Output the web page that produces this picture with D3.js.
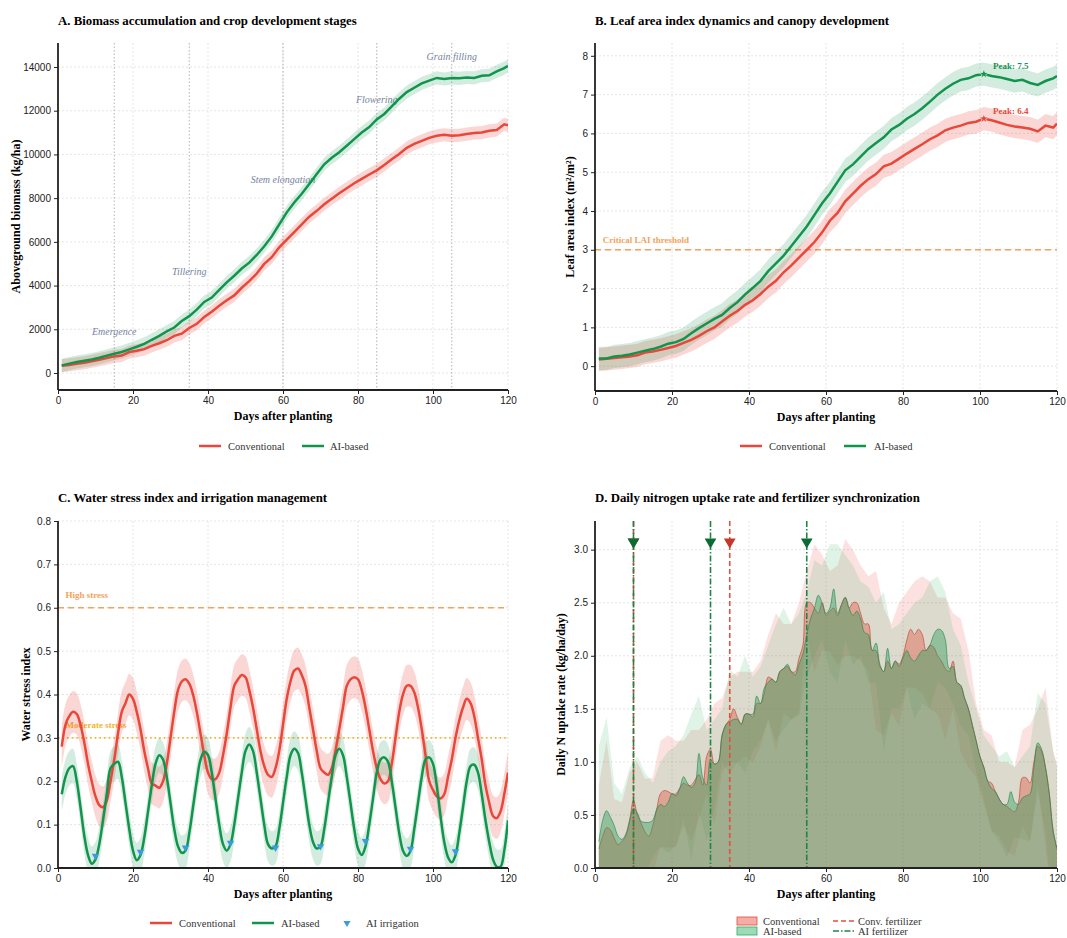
<!DOCTYPE html>
<html lang="en">
<head>
<meta charset="UTF-8"/>
<title>Crop growth: conventional vs AI-based management</title>
<script src="https://d3js.org/d3.v7.min.js"></script>
<style>
	body { margin: 0; background: white; }
	svg { font-family: "Liberation Serif", "DejaVu Serif", serif; }
	.axis text { font-size: 10px; fill: #222; }
	.axis path, .axis line { stroke: #222; }
	.grid { stroke: #dedede; stroke-width: 0.8; stroke-dasharray: 2,2; }
	.title { font-size: 12.8px; font-weight: bold; }
	.label { font-size: 12px; font-weight: bold; }
	.legend { font-size: 10.5px; fill: #333; }
</style>
</head>
<body>
<script>
// ---- data ----
var days2 = d3.range(1, 120, 2).concat([120]);   // every second day for A, B and D bands
var days1 = d3.range(1, 121);                     // daily for C and D

// A. aboveground biomass (kg/ha)
var bioConv = [330,370,420,470,540,610,680,760,800,960,1020,1090,1240,1360,1500,1700,1800,2060,2250,2560,
	2800,3080,3330,3550,3900,4200,4550,4990,5300,5750,6100,6450,6800,7150,7420,7720,7970,8220,8450,8680,
	8880,9080,9270,9520,9780,10020,10300,10480,10620,10760,10850,10900,10860,10880,10930,10980,11000,11080,11120,11380,11330];
var bioAI = [350,430,500,560,620,700,790,880,960,1080,1200,1330,1520,1700,1900,2080,2380,2600,2900,3250,
	3450,3800,4150,4450,4780,5050,5400,5800,6250,6800,7350,7800,8200,8650,9100,9550,9850,10100,10400,10700,
	11000,11250,11600,11850,12200,12550,12850,13050,13250,13380,13500,13450,13500,13480,13520,13500,13600,13620,13800,13950,14050];
var bioBand = 300;
var stageNames = ["Emergence", "Tillering", "Stem elongation", "Flowering", "Grain filling"];
var stageDays = [15, 35, 60, 85, 105];
var stageLabelY = [1920, 4660, 8870, 12530, 14500];

// B. leaf area index
var laiConv = [0.17,0.19,0.21,0.23,0.25,0.28,0.35,0.38,0.42,0.47,0.52,0.6,0.68,0.78,0.9,1.0,1.15,1.3,1.42,1.58,
	1.7,1.86,2.05,2.2,2.42,2.6,2.8,3.0,3.2,3.45,3.75,3.95,4.25,4.45,4.65,4.82,4.95,5.15,5.22,5.35,
	5.48,5.6,5.72,5.85,5.95,6.08,6.15,6.2,6.27,6.3,6.38,6.34,6.28,6.22,6.18,6.15,6.12,6.05,6.2,6.15,6.25];
var laiAI = [0.2,0.2,0.25,0.27,0.3,0.35,0.4,0.44,0.5,0.58,0.62,0.7,0.85,0.98,1.1,1.22,1.32,1.5,1.65,1.85,
	2.02,2.2,2.45,2.65,2.85,3.1,3.35,3.6,3.9,4.2,4.45,4.75,5.05,5.2,5.4,5.6,5.75,5.9,6.1,6.22,
	6.38,6.5,6.65,6.82,7.0,7.15,7.28,7.38,7.42,7.5,7.53,7.48,7.45,7.4,7.35,7.38,7.3,7.25,7.35,7.42,7.48];
var laiBand = 0.3;
var laiThreshold = 3;

// C. water stress index
var stressConv = [0.28,0.33,0.35,0.36,0.355,0.33,0.29,0.24,0.2,0.165,
	0.145,0.14,0.155,0.2,0.25,0.31,0.36,0.38,0.40,0.39,
	0.36,0.32,0.27,0.23,0.195,0.19,0.185,0.2,0.24,0.3,
	0.36,0.41,0.43,0.435,0.425,0.4,0.36,0.31,0.26,0.22,
	0.205,0.205,0.22,0.26,0.31,0.37,0.42,0.435,0.445,0.44,
	0.41,0.37,0.32,0.27,0.235,0.215,0.21,0.23,0.27,0.33,
	0.39,0.43,0.455,0.46,0.445,0.42,0.37,0.32,0.27,0.23,
	0.22,0.215,0.23,0.27,0.32,0.37,0.42,0.435,0.44,0.435,
	0.41,0.37,0.32,0.27,0.23,0.205,0.195,0.2,0.24,0.3,
	0.36,0.4,0.42,0.42,0.405,0.37,0.32,0.26,0.2,0.18,
	0.165,0.16,0.17,0.21,0.25,0.3,0.34,0.37,0.39,0.38,
	0.35,0.3,0.25,0.19,0.15,0.12,0.115,0.13,0.17,0.22];
var stressAI = [0.17,0.21,0.23,0.235,0.2,0.14,0.075,0.03,0.01,0.02,
	0.055,0.11,0.17,0.23,0.24,0.245,0.21,0.15,0.09,0.04,
	0.018,0.03,0.07,0.13,0.19,0.24,0.26,0.25,0.21,0.15,
	0.09,0.05,0.035,0.04,0.08,0.14,0.2,0.25,0.268,0.26,
	0.22,0.16,0.1,0.055,0.04,0.055,0.1,0.16,0.22,0.27,
	0.285,0.27,0.22,0.16,0.1,0.055,0.045,0.05,0.09,0.15,
	0.21,0.26,0.275,0.265,0.22,0.16,0.1,0.06,0.045,0.05,
	0.09,0.15,0.21,0.26,0.275,0.26,0.21,0.15,0.09,0.045,
	0.03,0.05,0.1,0.16,0.22,0.25,0.255,0.245,0.2,0.14,
	0.08,0.04,0.028,0.04,0.09,0.15,0.21,0.25,0.255,0.24,
	0.19,0.12,0.06,0.025,0.013,0.03,0.08,0.14,0.2,0.235,
	0.238,0.22,0.17,0.11,0.06,0.02,0.003,0.003,0.04,0.11];
var stressBandConv = 0.048;
var stressBandAI = 0.04;
var irrigDays = [10, 22, 34, 46, 58, 70, 82, 94, 106];
var irrigVals = [0.028, 0.037, 0.047, 0.058, 0.047, 0.05, 0.062, 0.044, 0.038];
var highStress = 0.6, moderateStress = 0.3;

// D. daily N uptake (kg/ha/day)
var nConv = [0.18,0.3,0.38,0.36,0.28,0.22,0.25,0.3,0.45,0.64,
	0.5,0.42,0.34,0.3,0.4,0.55,0.7,0.73,0.72,0.7,
	0.7,0.75,0.8,0.78,0.78,0.83,0.88,0.78,1.05,1.12,
	0.98,1.0,1.25,1.35,1.4,1.5,1.42,1.36,1.45,1.45,
	1.42,1.55,1.55,1.65,1.8,1.78,1.75,1.85,1.88,1.9,
	1.85,1.85,1.98,2.1,2.5,2.5,2.45,2.4,2.5,2.38,
	2.42,2.45,2.38,2.48,2.55,2.45,2.5,2.5,2.4,2.3,
	2.3,2.05,2.05,1.9,1.85,1.95,1.88,1.95,1.92,2.0,
	2.15,2.25,2.2,2.25,2.2,2.05,2.1,2.08,2.0,1.95,
	1.88,1.85,1.95,1.75,1.72,1.6,1.5,1.35,1.2,1.05,
	0.95,0.82,0.8,0.72,0.65,0.6,0.58,0.55,0.53,0.62,
	0.85,0.85,0.8,1.0,1.15,1.1,0.95,0.7,0.35,0.18];
var nAI = [0.25,0.45,0.54,0.48,0.4,0.3,0.27,0.32,0.45,0.56,
	0.52,0.44,0.43,0.43,0.45,0.55,0.6,0.58,0.62,0.7,
	0.68,0.75,0.86,0.8,0.76,0.8,1.08,0.85,0.78,1.02,
	0.98,1.0,1.25,1.35,1.38,1.4,1.4,1.35,1.45,1.45,
	1.45,1.62,1.55,1.7,1.75,1.78,1.75,1.85,1.88,1.92,
	1.85,1.82,1.92,2.02,2.2,2.35,2.45,2.57,2.5,2.4,
	2.45,2.63,2.4,2.48,2.55,2.45,2.38,2.42,2.35,2.22,
	2.2,2.05,2.12,1.92,1.85,2.07,1.88,1.95,1.9,1.98,
	2.05,1.98,1.95,2.0,2.05,2.05,2.1,2.2,2.25,2.24,
	2.15,1.88,1.9,1.75,1.72,1.6,1.5,1.35,1.2,1.05,
	0.95,0.82,0.75,0.72,0.65,0.6,0.6,0.72,0.62,0.6,
	0.66,0.68,0.7,0.95,1.18,1.12,0.95,0.7,0.35,0.18];
// spread (sd) of daily uptake, every second day
var nSdConv = [0.6,0.82,0.37,0.37,0.45,0.5,0.5,0.45,0.5,0.53,
	0.5,0.4,0.52,0.42,0.35,0.57,0.35,0.4,0.43,0.4,
	0.43,0.4,0.4,0.65,0.42,0.45,0.52,0.3,0.6,0.45,
	0.38,0.47,0.55,0.5,0.45,0.45,0.75,0.6,0.42,0.58,
	0.45,0.5,0.55,0.6,0.55,0.67,0.45,0.63,0.55,0.35,
	0.35,0.45,0.35,0.42,0.42,0.45,0.55,0.35,0.75,0.75,0.8];
var nSdAI = [0.9,0.88,0.4,0.43,0.5,0.53,0.47,0.35,0.4,0.48,
	0.47,0.39,0.69,0.54,0.52,0.42,0.25,0.49,0.4,0.55,
	0.35,0.35,0.35,0.55,0.57,0.45,0.48,0.4,0.45,0.35,
	0.6,0.65,0.4,0.47,0.35,0.45,0.38,0.75,0.37,0.4,
	0.35,0.55,0.5,0.6,0.5,0.45,0.35,0.38,0.25,0.3,
	0.3,0.4,0.4,0.5,0.33,0.39,0.45,0.47,0.6,0.75,0.77];
var fertConvDays = [10, 35];
var fertAIDays = [10, 30, 55];

var xTicks = [0, 20, 40, 60, 80, 100, 120];

// ---- colours ----
var RED = "#e8473a", GREEN = "#11944c", ORANGE = "#f5a25a", AMBER = "#f6b42a";
var STAGE = "#5d6c8e", BLUE = "#3a9be0";

var w = 1067, h = 938;
var svg = d3.select("body").append("svg").attr("width", w).attr("height", h);

function makePanel(p) {
	var x = d3.scaleLinear().domain([0, 120]).range([p.left, p.right]);
	var y = d3.scaleLinear().domain(p.yDomain).range([p.bottom, p.top]);
	var g = svg.append("g");

	g.selectAll(".gx").data(xTicks).enter().append("line")
		.attr("class", "grid")
		.attr("x1", d => x(d)).attr("x2", d => x(d))
		.attr("y1", p.top).attr("y2", p.bottom);
	g.selectAll(".gy").data(p.yTicks).enter().append("line")
		.attr("class", "grid")
		.attr("x1", p.left).attr("x2", p.right)
		.attr("y1", d => y(d)).attr("y2", d => y(d));

	svg.append("clipPath").attr("id", "clip" + p.name)
		.append("rect")
		.attr("x", p.left).attr("y", p.top)
		.attr("width", p.right - p.left).attr("height", p.bottom - p.top);
	var plot = g.append("g").attr("clip-path", "url(#clip" + p.name + ")");
	var over = g.append("g");

	var ax = g.append("g").attr("class", "axis")
		.attr("transform", "translate(0," + p.bottom + ")")
		.call(d3.axisBottom(x).tickValues(xTicks).tickSize(4).tickSizeOuter(0).tickPadding(3));
	var ay = g.append("g").attr("class", "axis")
		.attr("transform", "translate(" + p.left + ",0)")
		.call(d3.axisLeft(y).tickValues(p.yTicks).tickFormat(p.fmt).tickSize(4).tickSizeOuter(0).tickPadding(3));
	ax.select(".domain").attr("stroke-width", 1.8).attr("d", "M" + p.left + ",0H" + p.right);
	ay.select(".domain").attr("stroke-width", 1.8).attr("d", "M0," + p.bottom + "V" + p.top);

	g.append("text").attr("class", "title")
		.attr("x", p.left).attr("y", p.titleY)
		.text(p.title);
	g.append("text").attr("class", "label")
		.attr("x", (p.left + p.right) / 2).attr("y", p.bottom + 30)
		.attr("text-anchor", "middle")
		.text("Days after planting");
	g.append("text").attr("class", "label")
		.attr("transform", "translate(" + (p.left - p.yLabelOff) + "," + ((p.top + p.bottom) / 2) + ") rotate(-90)")
		.attr("text-anchor", "middle")
		.text(p.ylabel);

	return { x: x, y: y, plot: plot, over: over, g: g, p: p };
}

function lineLegend(g, items, y) {
	items.forEach(function (it) {
		if (it.type === "line") {
			g.append("line")
				.attr("x1", it.x).attr("x2", it.x + 22).attr("y1", y).attr("y2", y)
				.attr("stroke", it.color).attr("stroke-width", it.width || 2.5)
				.attr("stroke-dasharray", it.dash || null);
		} else if (it.type === "tri") {
			g.append("path")
				.attr("d", d3.symbol().type(d3.symbolTriangle).size(22))
				.attr("transform", "translate(" + (it.x + 11) + "," + y + ") rotate(180)")
				.attr("fill", it.color);
		} else if (it.type === "patch") {
			g.append("rect")
				.attr("x", it.x).attr("y", y - 4).attr("width", 20).attr("height", 8)
				.attr("fill", it.color).attr("fill-opacity", 0.45)
				.attr("stroke", it.color).attr("stroke-width", 0.8);
		}
		g.append("text").attr("class", "legend")
			.attr("x", it.tx).attr("y", y + 3.5)
			.text(it.label);
	});
}

// ================= Panel A =================
var A = makePanel({
	name: "A", left: 58, right: 508, top: 43, bottom: 390,
	yDomain: [-778, 15098], yTicks: d3.range(0, 14001, 2000), fmt: d3.format("d"),
	title: "A. Biomass accumulation and crop development stages", titleY: 25,
	ylabel: "Aboveground biomass (kg/ha)", yLabelOff: 38
});

A.plot.selectAll(".stage").data(stageDays).enter().append("line")
	.attr("x1", d => A.x(d)).attr("x2", d => A.x(d))
	.attr("y1", A.p.top).attr("y2", A.p.bottom)
	.attr("stroke", "#aaa").attr("stroke-width", 0.9).attr("stroke-dasharray", "1.5,2");
A.plot.selectAll(".stagelab").data(stageNames).enter().append("text")
	.attr("x", (d, i) => A.x(stageDays[i]))
	.attr("y", (d, i) => A.y(stageLabelY[i]) + 3.5)
	.attr("text-anchor", "middle")
	.attr("font-size", "10px").attr("font-style", "italic")
	.attr("fill", STAGE).attr("opacity", 0.85)
	.text(d => d);

var bandA = function (half) {
	return d3.area().x((d, i) => A.x(days2[i])).y0(d => A.y(d - half)).y1(d => A.y(d + half));
};
var lineA = d3.line().x((d, i) => A.x(days2[i])).y(d => A.y(d));
A.plot.append("path").datum(bioConv).attr("d", bandA(bioBand)).attr("fill", RED).attr("opacity", 0.22);
A.plot.append("path").datum(bioAI).attr("d", bandA(bioBand)).attr("fill", GREEN).attr("opacity", 0.18);
A.plot.append("path").datum(bioConv).attr("d", lineA).attr("fill", "none").attr("stroke", RED).attr("stroke-width", 2.5);
A.plot.append("path").datum(bioAI).attr("d", lineA).attr("fill", "none").attr("stroke", GREEN).attr("stroke-width", 2.5);

lineLegend(svg, [
	{ type: "line", x: 199, tx: 228, color: RED, label: "Conventional" },
	{ type: "line", x: 302, tx: 330, color: GREEN, label: "AI-based" }
], 446);

// ================= Panel B =================
var B = makePanel({
	name: "B", left: 595, right: 1057, top: 43, bottom: 391,
	yDomain: [-0.64, 8.33], yTicks: d3.range(0, 9), fmt: d3.format("d"),
	title: "B. Leaf area index dynamics and canopy development", titleY: 25,
	ylabel: "Leaf area index (m\u00b2/m\u00b2)", yLabelOff: 21
});

B.plot.append("line")
	.attr("x1", B.p.left).attr("x2", B.p.right)
	.attr("y1", B.y(laiThreshold)).attr("y2", B.y(laiThreshold))
	.attr("stroke", ORANGE).attr("stroke-width", 1.6).attr("stroke-dasharray", "6,4");
B.plot.append("text")
	.attr("x", B.x(2)).attr("y", B.y(laiThreshold) - 7)
	.attr("font-size", "9px").attr("font-weight", "bold").attr("fill", ORANGE)
	.text("Critical LAI threshold");

var bandB = d3.area().x((d, i) => B.x(days2[i])).y0(d => B.y(d - laiBand)).y1(d => B.y(d + laiBand));
var lineB = d3.line().x((d, i) => B.x(days2[i])).y(d => B.y(d));
B.plot.append("path").datum(laiConv).attr("d", bandB).attr("fill", RED).attr("opacity", 0.22);
B.plot.append("path").datum(laiAI).attr("d", bandB).attr("fill", GREEN).attr("opacity", 0.18);
B.plot.append("path").datum(laiConv).attr("d", lineB).attr("fill", "none").attr("stroke", RED).attr("stroke-width", 2.5);
B.plot.append("path").datum(laiAI).attr("d", lineB).attr("fill", "none").attr("stroke", GREEN).attr("stroke-width", 2.5);

[[laiAI, GREEN], [laiConv, RED]].forEach(function (s) {
	var vals = s[0], i = d3.maxIndex(vals), pk = vals[i];
	B.over.append("path")
		.attr("d", d3.symbol().type(d3.symbolStar).size(30))
		.attr("transform", "translate(" + B.x(days2[i]) + "," + B.y(pk) + ")")
		.attr("fill", s[1]).attr("stroke", "white").attr("stroke-width", 0.6);
	B.over.append("text")
		.attr("x", B.x(days2[i] + 7)).attr("y", B.y(pk) - 5)
		.attr("text-anchor", "middle")
		.attr("font-size", "9px").attr("font-weight", "bold").attr("fill", s[1])
		.text("Peak: " + pk.toFixed(1));
});

lineLegend(svg, [
	{ type: "line", x: 740, tx: 769, color: RED, label: "Conventional" },
	{ type: "line", x: 844, tx: 874, color: GREEN, label: "AI-based" }
], 446);

// ================= Panel C =================
var C = makePanel({
	name: "C", left: 58, right: 508, top: 521, bottom: 868,
	yDomain: [0, 0.8], yTicks: d3.range(0, 0.81, 0.1), fmt: d3.format(".1f"),
	title: "C. Water stress index and irrigation management", titleY: 502,
	ylabel: "Water stress index", yLabelOff: 28
});

C.plot.append("line")
	.attr("x1", C.p.left).attr("x2", C.p.right)
	.attr("y1", C.y(highStress)).attr("y2", C.y(highStress))
	.attr("stroke", ORANGE).attr("stroke-width", 1.6).attr("stroke-dasharray", "6,4");
C.plot.append("line")
	.attr("x1", C.p.left).attr("x2", C.p.right)
	.attr("y1", C.y(moderateStress)).attr("y2", C.y(moderateStress))
	.attr("stroke", AMBER).attr("stroke-width", 1.6).attr("stroke-dasharray", "1.6,3");
C.plot.append("text")
	.attr("x", C.x(2)).attr("y", C.y(highStress) - 10)
	.attr("font-size", "9px").attr("font-weight", "bold").attr("fill", ORANGE)
	.text("High stress");
C.plot.append("text")
	.attr("x", C.x(2)).attr("y", C.y(moderateStress) - 10)
	.attr("font-size", "9px").attr("font-weight", "bold").attr("fill", AMBER)
	.text("Moderate stress");

var bandC = function (half) {
	return d3.area().curve(d3.curveCatmullRom).x((d, i) => C.x(days1[i])).y0(d => C.y(d - half)).y1(d => C.y(d + half));
};
var lineC = d3.line().curve(d3.curveCatmullRom).x((d, i) => C.x(days1[i])).y(d => C.y(d));
C.plot.append("path").datum(stressConv).attr("d", bandC(stressBandConv)).attr("fill", RED).attr("opacity", 0.22);
C.plot.append("path").datum(stressAI).attr("d", bandC(stressBandAI)).attr("fill", GREEN).attr("opacity", 0.18);
C.plot.append("path").datum(stressConv).attr("d", lineC).attr("fill", "none").attr("stroke", RED).attr("stroke-width", 2.5);
C.plot.append("path").datum(stressAI).attr("d", lineC).attr("fill", "none").attr("stroke", GREEN).attr("stroke-width", 2.5);
C.plot.selectAll(".irr").data(irrigDays).enter().append("path")
	.attr("d", d3.symbol().type(d3.symbolTriangle).size(24))
	.attr("transform", (d, i) => "translate(" + C.x(d) + "," + C.y(irrigVals[i]) + ") rotate(180)")
	.attr("fill", BLUE);

lineLegend(svg, [
	{ type: "line", x: 150, tx: 179, color: RED, label: "Conventional" },
	{ type: "line", x: 252, tx: 281, color: GREEN, label: "AI-based" },
	{ type: "tri", x: 336, tx: 366, color: BLUE, label: "AI irrigation" }
], 923);

// ================= Panel D =================
var D = makePanel({
	name: "D", left: 595, right: 1057, top: 521, bottom: 868,
	yDomain: [0, 3.27], yTicks: d3.range(0, 3.01, 0.5), fmt: d3.format(".1f"),
	title: "D. Daily nitrogen uptake rate and fertilizer synchronization", titleY: 502,
	ylabel: "Daily N uptake rate (kg/ha/day)", yLabelOff: 30
});

var bandD = function (mean) {
	return d3.area().x((d, i) => D.x(days2[i]))
		.y0((d, i) => D.y(mean[days2[i] - 1] - d))
		.y1((d, i) => D.y(mean[days2[i] - 1] + d));
};
var fillD = d3.area().curve(d3.curveCatmullRom).x((d, i) => D.x(days1[i])).y0(D.y(0)).y1(d => D.y(d));
var lineD = d3.line().curve(d3.curveCatmullRom).x((d, i) => D.x(days1[i])).y(d => D.y(d));

D.plot.append("path").datum(nSdConv).attr("d", bandD(nConv)).attr("fill", "#e74c3c").attr("opacity", 0.16);
D.plot.append("path").datum(nSdAI).attr("d", bandD(nAI)).attr("fill", "#27ae60").attr("opacity", 0.15);
D.plot.append("path").datum(nConv).attr("d", fillD).attr("fill", "#e05a48").attr("opacity", 0.42);
D.plot.append("path").datum(nConv).attr("d", lineD).attr("fill", "none").attr("stroke", "#c0392b").attr("stroke-width", 1).attr("opacity", 0.6);
D.plot.append("path").datum(nAI).attr("d", fillD).attr("fill", "#2e9e5e").attr("opacity", 0.42);
D.plot.append("path").datum(nAI).attr("d", lineD).attr("fill", "none").attr("stroke", "#1e8449").attr("stroke-width", 1).attr("opacity", 0.6);

var markY = D.y(D.y.domain()[1] * 0.94);
D.plot.selectAll(".fc").data(fertConvDays).enter().append("line")
	.attr("x1", d => D.x(d)).attr("x2", d => D.x(d))
	.attr("y1", D.p.top).attr("y2", D.p.bottom)
	.attr("stroke", "#e2503e").attr("stroke-width", 1.6).attr("stroke-dasharray", "5,3");
D.plot.selectAll(".fa").data(fertAIDays).enter().append("line")
	.attr("x1", d => D.x(d)).attr("x2", d => D.x(d))
	.attr("y1", D.p.top).attr("y2", D.p.bottom)
	.attr("stroke", "#1e8449").attr("stroke-width", 1.6).attr("stroke-dasharray", "6,2,1.5,2");
D.plot.selectAll(".fcm").data(fertConvDays).enter().append("path")
	.attr("d", d3.symbol().type(d3.symbolTriangle).size(60))
	.attr("transform", d => "translate(" + D.x(d) + "," + markY + ") rotate(180)")
	.attr("fill", "#c0392b");
D.plot.selectAll(".fam").data(fertAIDays).enter().append("path")
	.attr("d", d3.symbol().type(d3.symbolTriangle).size(60))
	.attr("transform", d => "translate(" + D.x(d) + "," + markY + ") rotate(180)")
	.attr("fill", "#0b6b34");

lineLegend(svg, [
	{ type: "patch", x: 737, tx: 763, color: "#e74c3c", label: "Conventional" },
	{ type: "line", x: 833, tx: 858, color: "#e2503e", width: 1.6, dash: "5,3", label: "Conv. fertilizer" }
], 921);
lineLegend(svg, [
	{ type: "patch", x: 737, tx: 763, color: "#27ae60", label: "AI-based" },
	{ type: "line", x: 833, tx: 858, color: "#1e8449", width: 1.6, dash: "6,2,1.5,2", label: "AI fertilizer" }
], 931);
</script>
</body>
</html>
